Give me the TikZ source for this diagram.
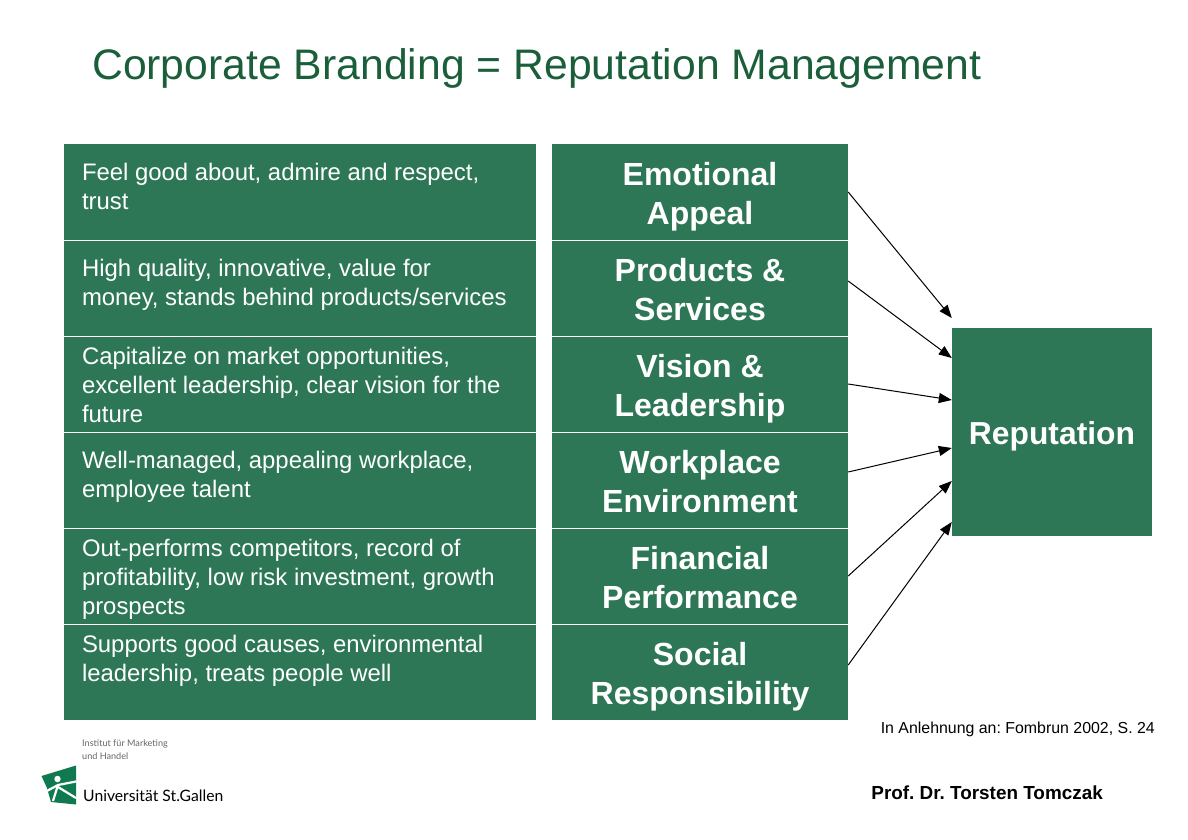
\documentclass[tikz,border=0pt]{standalone}
\usepackage{fontspec}
\setmainfont{Liberation Sans}
\newfontfamily\logofont{Lato}
\usepackage{xcolor}
\usetikzlibrary{arrows.meta,positioning}
\definecolor{hsggreen}{HTML}{2D7756}
\definecolor{titlegreen}{HTML}{1B5E3A}
\definecolor{logogreen}{HTML}{0F7A50}
\frenchspacing
\newcommand{\rowtext}[2]{\parbox[c][96pt][t]{436pt}{\vspace*{#1pt}\fontsize{23.9}{29}\selectfont #2}}
\newcommand{\rowhead}[1]{\parbox[c][96pt][t]{296pt}{\centering\vspace*{18pt}\fontsize{32}{39}\selectfont\bfseries #1}}

\begin{document}
\begin{tikzpicture}[
		x=1pt,y=-1pt,
		leftbox/.style={fill=hsggreen, text=white, minimum width=472pt, minimum height=96pt, inner sep=0pt, align=left},
		rightbox/.style={fill=hsggreen, text=white, minimum width=296pt, minimum height=96pt, inner sep=0pt, align=center},
		divider/.style={draw=white, line width=1pt},
		link/.style={draw=black, line width=1pt, -{Triangle[length=13pt,width=10pt]}},
		>=stealth
		]
		\useasboundingbox (0,0) rectangle (1188,840);

		% --- title ---
		\node[anchor=west, inner sep=0pt, text=titlegreen, font=\fontsize{42.7}{48}\selectfont] (title) at (92,68) {Corporate Branding = Reputation Management};

		% --- left column ---
		\node[leftbox] (feel) at (300,192) {\rowtext{19}{Feel good about, admire and respect,\\trust}};
		\node[leftbox] (quality) at (300,288) {\rowtext{19}{High quality, innovative, value for\\money, stands behind products/services}};
		\node[leftbox] (market) at (300,384) {\rowtext{11}{Capitalize on market opportunities,\\excellent leadership, clear vision for the\\future}};
		\node[leftbox] (managed) at (300,480) {\rowtext{19}{Well-managed, appealing workplace,\\employee talent}};
		\node[leftbox] (outperf) at (300,576) {\rowtext{11}{Out-performs competitors, record of\\profitability, low risk investment, growth\\prospects}};
		\node[leftbox] (causes) at (300,672) {\rowtext{11}{Supports good causes, environmental\\leadership, treats people well}};

		% --- right column ---
		\node[rightbox] (emotional) at (700,192) {\rowhead{Emotional\\Appeal}};
		\node[rightbox] (products) at (700,288) {\rowhead{Products \&\\Services}};
		\node[rightbox] (vision) at (700,384) {\rowhead{Vision \&\\Leadership}};
		\node[rightbox] (workplace) at (700,480) {\rowhead{Workplace\\Environment}};
		\node[rightbox] (financial) at (700,576) {\rowhead{Financial\\Performance}};
		\node[rightbox] (social) at (700,672) {\rowhead{Social\\Responsibility}};

		% --- white rules between the rows ---
		\foreach \a in {feel, quality, market, managed, outperf}
			\draw[divider] (\a.south west) -- (\a.south east);
		\foreach \a in {emotional, products, vision, workplace, financial}
			\draw[divider] (\a.south west) -- (\a.south east);

		% --- reputation ---
		\node[fill=hsggreen, text=white, minimum width=200pt, minimum height=208pt, inner sep=0pt, font=\fontsize{31.8}{39}\selectfont\bfseries] (reputation) at (1052,432) {\raisebox{-12pt}[0pt][0pt]{Reputation}};

		\draw[link] (emotional.east) -- ([yshift=114pt]reputation.west);
		\draw[link] ([yshift=7pt]products.east) -- ([yshift=74pt]reputation.west);
		\draw[link] (vision.east) -- ([yshift=32pt]reputation.west);
		\draw[link] ([yshift=8pt]workplace.east) -- ([yshift=-16pt]reputation.west);
		\draw[link] (financial.east) -- ([yshift=-49pt]reputation.west);
		\draw[link] ([yshift=7pt]social.east) -- ([yshift=-90pt]reputation.west);

		% --- source and footer ---
		\node[anchor=east, inner sep=0pt, font=\fontsize{15.9}{19}\selectfont] (source) at (1155,729) {In Anlehnung an: Fombrun 2002, S. 24};
		\node[anchor=east, inner sep=0pt, font=\fontsize{18.9}{22}\selectfont\bfseries] (prof) at (1103,793) {Prof. Dr. Torsten Tomczak};

		% --- logo ---
		\fill[logogreen] (41.5,776) -- (76,765.5) -- (76,804.5) -- (51,802) -- (47,788) -- cycle;
		\draw[white, line width=2.2pt] (76,781.5) -- (58,785) -- (45,792);
		\draw[white, line width=2.2pt] (58,785) -- (53,801);
		\draw[white, line width=2.2pt] (58,787) -- (76,798);
		\fill[white] (57.5,779) circle (3.2);
		\node[anchor=west, inner sep=0pt, align=left, text=black!60, font=\logofont\fontsize{9.1}{13}\selectfont] (institut) at (82,750) {Institut für Marketing\\und Handel};
		\node[anchor=west, inner sep=0pt, font=\logofont\fontsize{15.7}{20}\selectfont] (hsg) at (83,796) {Universität St.Gallen};
\end{tikzpicture}
\end{document}
